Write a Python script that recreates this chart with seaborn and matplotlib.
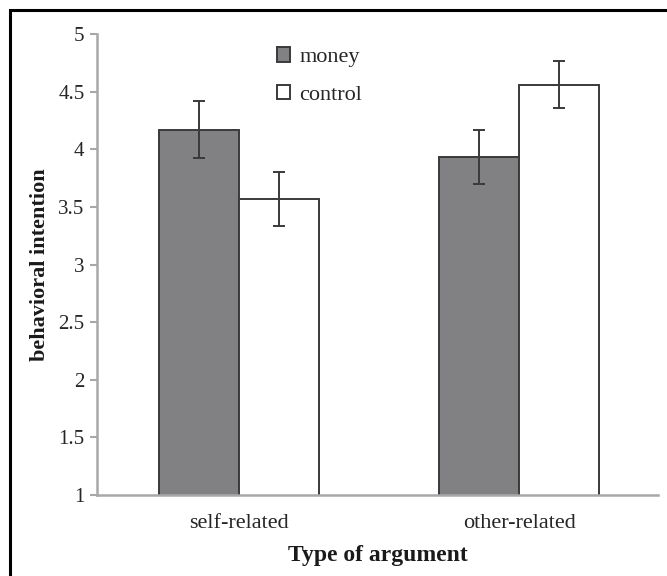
import matplotlib
matplotlib.use("Agg")
import matplotlib.pyplot as plt
from matplotlib.patches import Rectangle
import seaborn as sns
import pandas as pd

# Mean behavioral intention by argument type and condition
categories = ["self-related", "other-related"]
conditions = ["money", "control"]
money_means = [4.17, 3.93]
control_means = [3.57, 4.56]
money_err = [0.25, 0.235]
control_err = [0.235, 0.205]
y_ticks = [1, 1.5, 2, 2.5, 3, 3.5, 4, 4.5, 5]
y_tick_labels = ["1", "1.5", "2", "2.5", "3", "3.5", "4", "4.5", "5"]

df = pd.DataFrame({
    "argument": categories * 2,
    "condition": ["money"] * 2 + ["control"] * 2,
    "intention": money_means + control_means,
    "err": money_err + control_err,
})

sns.set_theme(style="white")
plt.rcParams["font.family"] = ["Liberation Serif", "DejaVu Serif"]

fig = plt.figure(figsize=(6.67, 5.76), dpi=100)
ax = fig.add_axes([97 / 667, 1 - 495 / 576, (658 - 97) / 667, (495 - 34) / 576])

edge = "#3a3a3a"
sns.barplot(
    data=df, x="argument", y="intention", hue="condition",
    order=categories, hue_order=conditions,
    palette={"money": "#808184", "control": "#ffffff"},
    width=0.572, errorbar=None, edgecolor=edge, linewidth=1.4,
    ax=ax,
)

# error bars placed at the centres of the drawn bars
for cond, container in zip(conditions, ax.containers):
    sub = df[df["condition"] == cond].set_index("argument").loc[categories]
    xs = [p.get_x() + p.get_width() / 2 for p in container.patches]
    ax.errorbar(xs, sub["intention"].values, yerr=sub["err"].values,
                fmt="none", ecolor=edge, elinewidth=1.4, capsize=4.5,
                capthick=1.4, zorder=5)

ax.set_ylim(1, 5)
ax.set_xlim(-0.507, 1.496)
ax.set_yticks(y_ticks)
ax.set_yticklabels(y_tick_labels)

for side in ["top", "right"]:
    ax.spines[side].set_visible(False)
for side in ["left", "bottom"]:
    ax.spines[side].set_color("#a8a8a8")
    ax.spines[side].set_linewidth(1.8)
ax.spines["bottom"].set_zorder(6)

ax.tick_params(axis="y", which="both", left=True, length=5, width=1.5,
               color="#a8a8a8", labelsize=15, labelcolor="#262626", pad=4)
ax.tick_params(axis="x", bottom=False, labelsize=16, labelcolor="#262626", pad=8)

ax.set_ylabel("behavioral intention", fontsize=16, fontweight="bold",
              color="#1a1a1a", labelpad=6)
ax.set_xlabel("Type of argument", fontsize=17, fontweight="bold",
              color="#1a1a1a", labelpad=8)

leg = ax.legend(loc="upper left", bbox_to_anchor=(0.305, 0.99), frameon=False,
                fontsize=16, handlelength=0.6, handleheight=0.6,
                handletextpad=0.4, labelspacing=0.8, borderaxespad=0)
for t in leg.get_texts():
    t.set_color("#262626")

# outer frame around the figure
fig.patches.append(Rectangle((10 / 667, -0.1), 1.2, 1 - 10 / 576 + 0.1,
                             transform=fig.transFigure, fill=False,
                             edgecolor="black", linewidth=2.2, zorder=10))

fig.savefig("out.png", dpi=100)
